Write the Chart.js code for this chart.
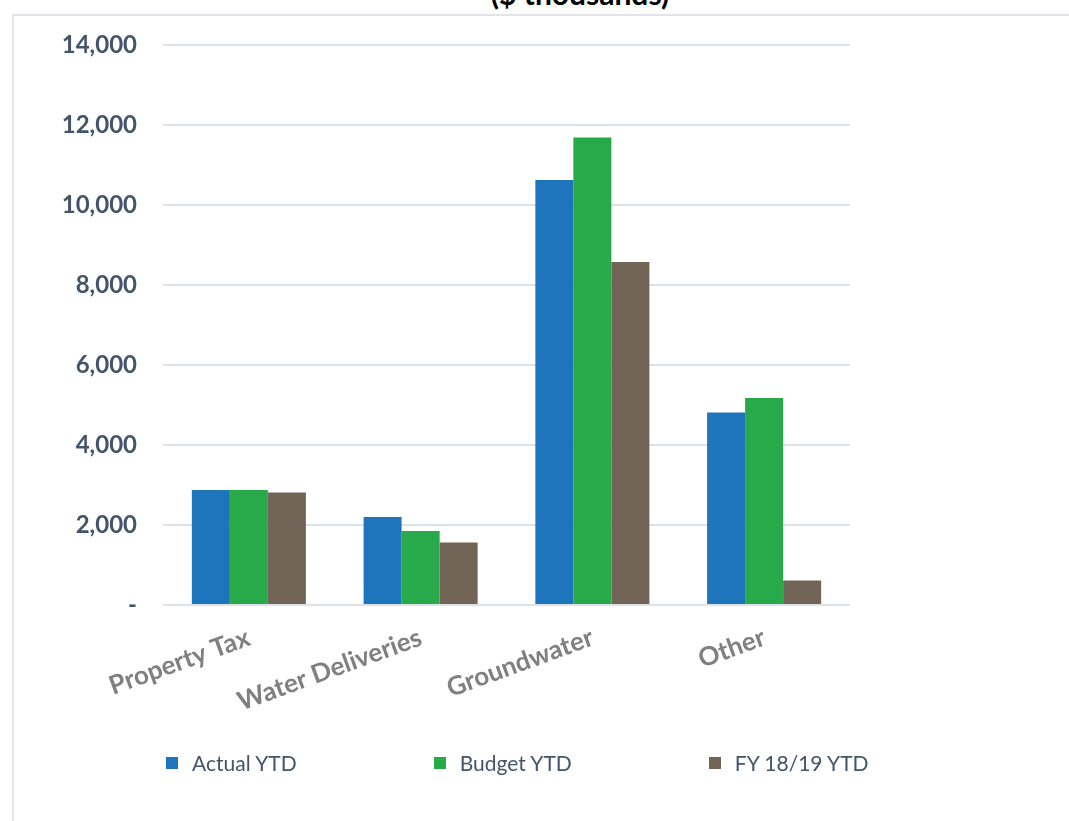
<!DOCTYPE html>
<html>
<head>
<meta charset="utf-8">
<script src="https://cdn.jsdelivr.net/npm/chart.js@4.4.0/dist/chart.umd.min.js"></script>
<style>
  body { margin: 0; background: #fff; }
  #wrap { position: relative; width: 1069px; height: 821px; overflow: hidden; }
  #frame {
    position: absolute; left: 12px; top: 14px; width: 1200px; height: 900px;
    border-left: 2px solid #e1e5eb; border-top: 2px solid #e1e5eb;
  }
  #title {
    position: absolute; left: 0; width: 1160px; top: -25px; text-align: center;
    font: bold 30px Lato, sans-serif; color: #000;
  }
  #chart { position: absolute; left: 0; top: 0; }
  #legend {
    position: absolute; left: 166px; top: 750px; display: flex; align-items: center;
    font: 21px Lato, sans-serif; color: #44546a;
  }
  #legend .item { display: flex; align-items: center; margin-right: 137px; }
  #legend .box { width: 12px; height: 12px; margin-right: 14px; }
</style>
</head>
<body>
<div id="wrap">
  <div id="frame"></div>
  <div id="title">($ thousands)</div>
  <canvas id="chart" width="1069" height="821"></canvas>
  <div id="legend"></div>
</div>
<script>
const categories = ["Property Tax", "Water Deliveries", "Groundwater", "Other"];
const actualYtd = [2875, 2200, 10625, 4815];
const budgetYtd = [2875, 1850, 11690, 5175];
const priorYtd = [2810, 1565, 8575, 615];
const yTicks = [0, 2000, 4000, 6000, 8000, 10000, 12000, 14000];

const chart = new Chart(document.getElementById("chart"), {
  type: "bar",
  data: {
    labels: categories,
    datasets: [
      { label: "Actual YTD", data: actualYtd, backgroundColor: "#1f75bc" },
      { label: "Budget YTD", data: budgetYtd, backgroundColor: "#28a94a" },
      { label: "FY 18/19 YTD", data: priorYtd, backgroundColor: "#726557" },
    ],
  },
  options: {
    responsive: false,
    animation: false,
    barPercentage: 1,
    categoryPercentage: 0.664,
    layout: { padding: { left: 0, right: 47, top: 45, bottom: 66 } },
    scales: {
      x: {
        grid: { display: false },
        border: { display: false },
        ticks: {
          minRotation: 20,
          maxRotation: 20,
          padding: 9,
          color: "#808080",
          font: { family: "Lato", size: 26, weight: "bold" },
        },
        afterFit: function (scale) {
          scale.height = 150;
        },
      },
      y: {
        min: 0,
        max: 14000,
        afterBuildTicks: function (scale) {
          scale.ticks = yTicks.map((v) => ({ value: v }));
        },
        grid: { color: "#dde1e8", lineWidth: 2, drawTicks: false },
        border: { display: false },
        ticks: {
          padding: 26,
          color: "#44546a",
          font: { family: "Lato", size: 24, weight: "bold" },
          callback: function (value) {
            return value === 0 ? "-" : value.toLocaleString("en-US");
          },
        },
        afterFit: function (scale) {
          scale.width = 163;
        },
      },
      spacer: {
        position: "right",
        grid: { display: false },
        border: { display: false },
        ticks: { display: false },
        afterFit: function (scale) {
          scale.width = 172;
        },
      },
    },
    plugins: {
      tooltip: { enabled: false },
      legend: { display: false },
    },
  },
});

// legend built from the chart's own datasets
const legendEl = document.getElementById("legend");
chart.data.datasets.forEach((ds) => {
  const item = document.createElement("div");
  item.className = "item";
  const box = document.createElement("span");
  box.className = "box";
  box.style.background = ds.backgroundColor;
  const text = document.createElement("span");
  text.textContent = ds.label;
  item.appendChild(box);
  item.appendChild(text);
  legendEl.appendChild(item);
});
</script>
</body>
</html>
